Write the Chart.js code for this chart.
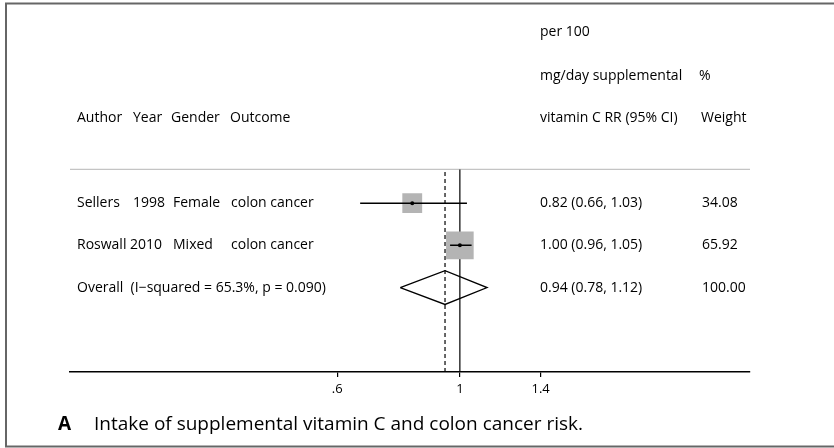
<!DOCTYPE html>
<html>
<head>
<meta charset="utf-8">
<script src="https://cdn.jsdelivr.net/npm/chart.js@4"></script>
<style>
  html, body { margin: 0; padding: 0; background: #fff; }
  #wrap { width: 834px; height: 448px; position: relative; }
</style>
</head>
<body>
<div id="wrap"><canvas id="forest" width="834" height="448"></canvas></div>
<script>
// study rows (top to bottom)
const AUTHORS = ["Sellers", "Roswall"];
const YEARS = ["1998", "2010"];
const GENDERS = ["Female", "Mixed"];
const OUTCOMES = ["colon cancer", "colon cancer"];
const RR = [0.82, 1.00];
const LOWER = [0.66, 0.96];
const UPPER = [1.03, 1.05];
const WEIGHTS = [34.08, 65.92];
const ROW_Y = [4, 3];

// pooled estimate
const OVERALL_LABEL = "Overall  (I\u2212squared = 65.3%, p = 0.090)";
const OVERALL = [0.94, 0.78, 1.12]; // rr, lower, upper
const OVERALL_WEIGHT = "100.00";
const OVERALL_Y = 2;

const HEADER_RIGHT = ["per 100", "mg/day supplemental", "vitamin C RR (95% CI)"];
const HEADER_Y = [8.05, 7.02, 6.02];
const DIVIDER_Y = 4.8;

const X_TICKS = [0.6, 1, 1.4];
const X_TICK_LABELS = [".6", "1", "1.4"];
const X_MIN = 0.197, X_MAX = 3.35;

const FONT = "'Open Sans', 'Noto Sans', sans-serif";

function fmt2(v) { return Number(v).toFixed(2); }
function ciText(i) { return `${fmt2(RR[i])} (${fmt2(LOWER[i])}, ${fmt2(UPPER[i])})`; }

const datasets = [];

// reference line at 1 and dashed line at pooled estimate
datasets.push({
  type: "line", order: 6, data: [{ x: 1, y: 0 }, { x: 1, y: DIVIDER_Y }],
  borderColor: "#000", borderWidth: 1.2, pointRadius: 0,
});
datasets.push({
  type: "line", order: 6, data: [{ x: OVERALL[0], y: 0 }, { x: OVERALL[0], y: DIVIDER_Y }],
  borderColor: "#000", borderWidth: 1.2, borderDash: [4, 3], pointRadius: 0,
});
// divider under header
datasets.push({
  type: "line", order: 6, data: [{ x: X_MIN, y: DIVIDER_Y }, { x: X_MAX, y: DIVIDER_Y }],
  borderColor: "#c4c4c4", borderWidth: 1.2, pointRadius: 0,
});

// weight boxes (area ~ weight)
datasets.push({
  type: "scatter", order: 5,
  data: RR.map((v, i) => ({ x: v, y: ROW_Y[i] })),
  pointStyle: "rect",
  pointRadius: WEIGHTS.map((w) => (3.4 * Math.sqrt(w)) / Math.SQRT2),
  backgroundColor: "#b4b4b4", borderColor: "#b4b4b4", borderWidth: 0,
});

// confidence intervals
RR.forEach((v, i) => {
  datasets.push({
    type: "line", order: 2,
    data: [{ x: LOWER[i], y: ROW_Y[i] }, { x: UPPER[i], y: ROW_Y[i] }],
    borderColor: "#000", borderWidth: 1.5, pointRadius: 0,
  });
});

// point estimates
datasets.push({
  type: "scatter", order: 1,
  data: RR.map((v, i) => ({ x: v, y: ROW_Y[i] })),
  pointStyle: "circle", pointRadius: 2,
  backgroundColor: "#000", borderColor: "#000", borderWidth: 0,
});

// pooled diamond
datasets.push({
  type: "line", order: 1,
  data: [
    { x: OVERALL[1], y: OVERALL_Y },
    { x: OVERALL[0], y: OVERALL_Y + 0.4 },
    { x: OVERALL[2], y: OVERALL_Y },
    { x: OVERALL[0], y: OVERALL_Y - 0.4 },
    { x: OVERALL[1], y: OVERALL_Y },
  ],
  borderColor: "#000", borderWidth: 1.3, pointRadius: 0, tension: 0, fill: false,
});

const textPlugin = {
  id: "forestText",
  beforeDraw(chart) {
    const ctx = chart.ctx;
    ctx.save();
    ctx.fillStyle = "#fff";
    ctx.fillRect(0, 0, chart.width, chart.height);
    ctx.restore();
  },
  afterDraw(chart) {
    const ctx = chart.ctx;
    const y = chart.scales.y;
    ctx.save();
    ctx.fillStyle = "#000";
    ctx.textBaseline = "middle";
    ctx.textAlign = "left";
    ctx.font = `14px ${FONT}`;

    // headers
    HEADER_RIGHT.forEach((t, i) => ctx.fillText(t, 540, y.getPixelForValue(HEADER_Y[i])));
    ctx.fillText("%", 699, y.getPixelForValue(HEADER_Y[1]));
    ctx.fillText("Weight", 701, y.getPixelForValue(HEADER_Y[2]));
    const hy = y.getPixelForValue(HEADER_Y[2]);
    ctx.fillText("Author", 77, hy);
    ctx.fillText("Year", 133, hy);
    ctx.fillText("Gender", 171, hy);
    ctx.fillText("Outcome", 230, hy);

    // study rows
    const yearX = [133, 130];
    AUTHORS.forEach((a, i) => {
      const py = y.getPixelForValue(ROW_Y[i]);
      ctx.fillText(a, 77, py);
      ctx.fillText(YEARS[i], yearX[i], py);
      ctx.fillText(GENDERS[i], 173, py);
      ctx.fillText(OUTCOMES[i], 231, py);
      ctx.fillText(ciText(i), 540, py);
      ctx.fillText(fmt2(WEIGHTS[i]), 702, py);
    });
    const oy = y.getPixelForValue(OVERALL_Y);
    ctx.fillText(OVERALL_LABEL, 77, oy);
    ctx.fillText(`${fmt2(OVERALL[0])} (${fmt2(OVERALL[1])}, ${fmt2(OVERALL[2])})`, 540, oy);
    ctx.fillText(OVERALL_WEIGHT, 702, oy);

    // caption
    ctx.font = `bold 19px ${FONT}`;
    ctx.fillText("A", 58, 425);
    ctx.font = `19px ${FONT}`;
    ctx.fillText("Intake of supplemental vitamin C and colon cancer risk.", 94, 425);

    // frame
    ctx.strokeStyle = "#666";
    ctx.lineWidth = 2;
    ctx.strokeRect(6, 3.5, chart.width + 4, 443);
    ctx.restore();
  },
};

new Chart(document.getElementById("forest"), {
  data: { datasets },
  options: {
    responsive: false,
    animation: false,
    events: [],
    layout: { padding: { left: 70, right: 84, top: 0, bottom: 0 } },
    plugins: { legend: { display: false }, tooltip: { enabled: false } },
    scales: {
      x: {
        type: "logarithmic",
        min: X_MIN, max: X_MAX,
        afterBuildTicks: (s) => { s.ticks = X_TICKS.map((v) => ({ value: v })); },
        afterFit: (s) => { s.height = 76; },
        grid: { drawOnChartArea: false, color: "#000", tickLength: 5, lineWidth: 1.2 },
        border: { display: true, color: "#000", width: 1.5 },
        ticks: {
          color: "#000", padding: 4, maxRotation: 0, autoSkip: false,
          font: { family: FONT, size: 13 },
          callback: (v) => X_TICK_LABELS[X_TICKS.indexOf(v)] ?? "",
        },
      },
      y: { type: "linear", min: 0, max: 8.35, display: false },
    },
  },
  plugins: [textPlugin],
});
</script>
</body>
</html>
